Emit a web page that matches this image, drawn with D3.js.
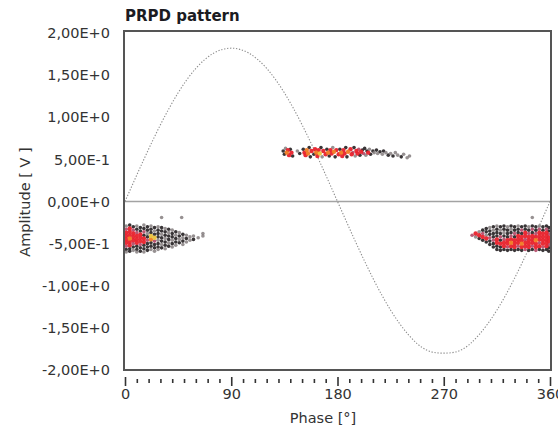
<!DOCTYPE html>
<html>
<head>
<meta charset="utf-8">
<script src="https://cdn.jsdelivr.net/npm/d3@7/dist/d3.min.js"></script>
<style>
  html, body { margin: 0; padding: 0; background: #fff; }
  svg { display: block; }
  text { font-family: "DejaVu Sans", Verdana, sans-serif; fill: #2b2b2b; }
</style>
</head>
<body>
<svg id="chart" width="558" height="431"></svg>
<script>
// Phase axis and amplitude axis ticks
const phaseTicks = [0, 90, 180, 270, 360];
const amplitudeTicks = [2, 1.5, 1, 0.5, 0, -0.5, -1, -1.5, -2];

// Reference sinusoid of the test voltage, sampled every 15°
const sinePhase = [0, 15, 30, 45, 60, 75, 90, 105, 120, 135, 150, 165, 180,
                   195, 210, 225, 240, 255, 270, 285, 300, 315, 330, 345, 360];
const sineAmp = [0, 0.47, 0.91, 1.29, 1.58, 1.76, 1.82, 1.76, 1.58, 1.29, 0.91, 0.47, 0,
                 -0.47, -0.91, -1.29, -1.58, -1.76, -1.80, -1.76, -1.58, -1.29, -0.91, -0.47, 0];

// Discharge pulses: [phase °, amplitude V, density level]
// levels: 0 dark, 1 grey, 2 pink, 3 red, 4 orange, 5 yellow
const positiveCluster = [
  [134,0.60,0],[135,0.56,0],[136,0.63,1],[137,0.58,4],[138,0.61,3],[139,0.55,3],[140,0.62,0],[141,0.58,3],[142,0.54,0],
  [146,0.60,1],[148,0.57,0],
  [151,0.62,0],[152,0.58,3],[153,0.55,3],[154,0.61,4],[155,0.57,4],[156,0.64,0],[157,0.53,0],[158,0.60,3],
  [160,0.56,0],[161,0.62,3],[162,0.58,4],[163,0.54,3],[164,0.61,3],[165,0.57,5],[166,0.64,0],[167,0.53,1],[168,0.60,3],
  [170,0.56,3],[171,0.62,0],[172,0.58,4],[173,0.54,0],[174,0.61,3],[175,0.57,3],[176,0.64,1],[177,0.59,4],[178,0.53,0],[179,0.61,3],
  [181,0.56,3],[182,0.62,0],[183,0.58,4],[184,0.54,3],[185,0.61,3],[186,0.57,3],[187,0.64,0],[188,0.53,0],[189,0.59,4],
  [191,0.62,3],[192,0.56,3],[193,0.58,2],[194,0.64,0],[195,0.54,1],[196,0.60,3],[197,0.57,3],[198,0.62,2],[199,0.55,0],
  [200,0.59,3],[201,0.61,0],[202,0.57,2],[203,0.63,0],[204,0.55,1],[205,0.60,0],[206,0.58,3],[207,0.62,1],[208,0.56,0],
  [210,0.60,0],[211,0.58,1],[213,0.61,0],[214,0.57,1],[216,0.59,0],[218,0.56,1],[219,0.60,0],[221,0.58,1],
  [223,0.55,0],[225,0.57,1],[227,0.54,0],[229,0.58,1],[231,0.55,1],[234,0.53,0],[236,0.56,1],[239,0.52,1],[241,0.54,1]
];

const negativeClusterLeft = [
  [1,-0.29,1],[1,-0.33,2],[1,-0.37,3],[1,-0.41,3],[1,-0.45,3],[1,-0.49,3],[1,-0.53,2],[1,-0.57,0],[1,-0.60,1],
  [4,-0.28,0],[4,-0.32,3],[4,-0.36,3],[4,-0.40,3],[4,-0.44,4],[4,-0.48,3],[4,-0.52,3],[4,-0.56,0],[4,-0.59,0],
  [7,-0.30,0],[7,-0.34,2],[7,-0.38,3],[7,-0.42,3],[7,-0.46,3],[7,-0.50,2],[7,-0.54,0],[7,-0.58,1],
  [10,-0.29,1],[10,-0.33,0],[10,-0.37,2],[10,-0.41,3],[10,-0.45,3],[10,-0.49,3],[10,-0.53,0],[10,-0.57,0],[10,-0.60,1],
  [13,-0.31,0],[13,-0.35,0],[13,-0.39,3],[13,-0.43,3],[13,-0.47,3],[13,-0.51,2],[13,-0.55,0],[13,-0.59,0],
  [16,-0.28,1],[16,-0.32,0],[16,-0.36,2],[16,-0.40,0],[16,-0.44,3],[16,-0.48,3],[16,-0.52,0],[16,-0.56,0],[16,-0.60,1],
  [19,-0.30,0],[19,-0.34,0],[19,-0.38,1],[19,-0.42,0],[19,-0.46,2],[19,-0.50,0],[19,-0.54,0],[19,-0.58,0],
  [22,-0.29,1],[22,-0.33,0],[22,-0.37,0],[22,-0.41,5],[22,-0.45,4],[22,-0.49,0],[22,-0.53,0],[22,-0.57,1],
  [25,-0.31,0],[25,-0.35,1],[25,-0.39,0],[25,-0.43,5],[25,-0.47,2],[25,-0.51,0],[25,-0.55,0],[25,-0.59,1],
  [28,-0.30,1],[28,-0.34,0],[28,-0.38,0],[28,-0.42,0],[28,-0.46,1],[28,-0.50,0],[28,-0.54,0],[28,-0.57,1],
  [31,-0.31,0],[31,-0.35,0],[31,-0.39,1],[31,-0.43,0],[31,-0.47,0],[31,-0.51,1],[31,-0.55,0],
  [34,-0.32,1],[34,-0.36,0],[34,-0.40,0],[34,-0.44,1],[34,-0.48,0],[34,-0.52,0],[34,-0.56,1],
  [37,-0.33,0],[37,-0.37,1],[37,-0.41,0],[37,-0.45,0],[37,-0.49,1],[37,-0.53,0],
  [40,-0.34,1],[40,-0.38,0],[40,-0.42,0],[40,-0.46,1],[40,-0.50,0],[40,-0.54,1],
  [43,-0.36,0],[43,-0.40,1],[43,-0.44,0],[43,-0.48,0],[43,-0.52,1],
  [46,-0.37,1],[46,-0.41,0],[46,-0.45,1],[46,-0.49,0],
  [49,-0.39,0],[49,-0.43,1],[49,-0.47,0],[49,-0.51,1],
  [52,-0.40,1],[52,-0.44,0],[52,-0.48,1],
  [55,-0.42,1],[55,-0.46,1],
  [58,-0.41,1],[58,-0.45,0],
  [62,-0.43,1],[66,-0.41,1],[66,-0.38,1],
  [31,-0.19,1],[48,-0.19,1]
];

const negativeClusterRight = [
  [294,-0.40,2],
  [297,-0.38,3],[297,-0.42,1],
  [300,-0.36,1],[300,-0.40,3],[300,-0.44,0],
  [303,-0.34,0],[303,-0.38,2],[303,-0.42,3],[303,-0.46,0],
  [306,-0.32,0],[306,-0.36,0],[306,-0.40,1],[306,-0.44,3],[306,-0.48,0],
  [309,-0.31,1],[309,-0.35,0],[309,-0.39,0],[309,-0.43,2],[309,-0.47,0],[309,-0.51,0],
  [312,-0.30,0],[312,-0.34,1],[312,-0.38,0],[312,-0.42,0],[312,-0.46,2],[312,-0.50,0],[312,-0.54,0],
  [315,-0.29,1],[315,-0.33,0],[315,-0.37,0],[315,-0.41,0],[315,-0.45,3],[315,-0.49,3],[315,-0.53,0],[315,-0.57,0],
  [318,-0.30,0],[318,-0.34,1],[318,-0.38,0],[318,-0.42,2],[318,-0.46,0],[318,-0.50,3],[318,-0.54,0],[318,-0.58,0],
  [321,-0.29,0],[321,-0.33,0],[321,-0.37,1],[321,-0.41,0],[321,-0.45,2],[321,-0.49,3],[321,-0.53,3],[321,-0.57,0],
  [324,-0.30,1],[324,-0.34,0],[324,-0.38,0],[324,-0.42,0],[324,-0.46,3],[324,-0.50,3],[324,-0.54,2],[324,-0.58,0],
  [327,-0.29,0],[327,-0.33,1],[327,-0.37,0],[327,-0.41,2],[327,-0.45,3],[327,-0.49,4],[327,-0.53,3],[327,-0.57,0],
  [330,-0.30,0],[330,-0.34,0],[330,-0.38,2],[330,-0.42,0],[330,-0.46,3],[330,-0.50,3],[330,-0.54,3],[330,-0.58,0],
  [333,-0.29,1],[333,-0.33,0],[333,-0.37,0],[333,-0.41,3],[333,-0.45,3],[333,-0.49,3],[333,-0.53,2],[333,-0.57,0],
  [336,-0.30,0],[336,-0.34,2],[336,-0.38,0],[336,-0.42,3],[336,-0.46,3],[336,-0.50,4],[336,-0.54,3],[336,-0.58,0],
  [339,-0.29,0],[339,-0.33,0],[339,-0.37,3],[339,-0.41,3],[339,-0.45,2],[339,-0.49,3],[339,-0.53,3],[339,-0.57,2],
  [342,-0.30,1],[342,-0.34,0],[342,-0.38,2],[342,-0.42,3],[342,-0.46,3],[342,-0.50,3],[342,-0.54,3],[342,-0.58,0],
  [345,-0.29,0],[345,-0.33,2],[345,-0.37,0],[345,-0.41,3],[345,-0.45,3],[345,-0.49,3],[345,-0.53,2],[345,-0.57,0],
  [348,-0.30,0],[348,-0.34,0],[348,-0.38,2],[348,-0.42,3],[348,-0.46,4],[348,-0.50,3],[348,-0.54,3],[348,-0.58,2],
  [351,-0.29,1],[351,-0.33,2],[351,-0.37,3],[351,-0.41,3],[351,-0.45,3],[351,-0.49,2],[351,-0.53,3],[351,-0.57,0],
  [354,-0.30,0],[354,-0.34,0],[354,-0.38,3],[354,-0.42,3],[354,-0.46,3],[354,-0.50,3],[354,-0.54,2],[354,-0.58,0],
  [357,-0.29,0],[357,-0.33,2],[357,-0.37,3],[357,-0.41,3],[357,-0.45,3],[357,-0.49,3],[357,-0.53,3],[357,-0.57,0],
  [359,-0.31,0],[359,-0.35,0],[359,-0.39,2],[359,-0.43,3],[359,-0.47,3],[359,-0.51,2],[359,-0.55,0],[359,-0.59,0],
  [345,-0.19,1]
];

const levelColors = ["#2e2a2c", "#7d7577", "#b5506e", "#e8222c", "#f07a22", "#e9c23c"];

const svg = d3.select("#chart");
const plot = { left: 124, right: 551, top: 31, bottom: 370 };

const x = d3.scaleLinear().domain([0, 360]).range([125, 550]);
const y = d3.scaleLinear().domain([-2, 2]).range([370, 33]);

// Title
svg.append("text")
  .attr("x", 125).attr("y", 21)
  .style("font-weight", "bold").style("font-size", "15px")
  .style("fill", "#1b1b22")
  .text("PRPD pattern");

// Plot background
svg.append("rect")
  .attr("x", plot.left).attr("y", plot.top)
  .attr("width", plot.right - plot.left).attr("height", plot.bottom - plot.top)
  .attr("fill", "#fff");

// Zero line
svg.append("line")
  .attr("x1", plot.left).attr("x2", plot.right)
  .attr("y1", y(0)).attr("y2", y(0))
  .attr("stroke", "#a3a3a3").attr("stroke-width", 1.6);

// Sinusoid (dotted)
const sinePts = sinePhase.map((p, i) => [p, sineAmp[i]]);
svg.append("path")
  .datum(sinePts)
  .attr("fill", "none")
  .attr("stroke", "#8c8c8c")
  .attr("stroke-width", 1.1)
  .attr("stroke-dasharray", "1.3,1.7")
  .attr("d", d3.line().x(d => x(d[0])).y(d => y(d[1])).curve(d3.curveNatural));

// Pulses
const pulses = [...positiveCluster, ...negativeClusterLeft, ...negativeClusterRight]
  .sort((a, b) => a[2] - b[2]);
svg.append("g")
  .selectAll("circle")
  .data(pulses)
  .join("circle")
  .attr("cx", d => x(d[0]))
  .attr("cy", d => y(d[1]))
  .attr("r", d => d[2] >= 3 ? 2.2 : 1.8)
  .attr("fill", d => levelColors[d[2]])
  .attr("opacity", d => d[2] === 1 ? 0.8 : 0.95);

// Frame
svg.append("rect")
  .attr("x", plot.left).attr("y", plot.top)
  .attr("width", plot.right - plot.left).attr("height", plot.bottom - plot.top)
  .attr("fill", "none")
  .attr("stroke", "#555").attr("stroke-width", 2);

// Amplitude axis labels
const sciFormat = v => {
  if (v === 0) return "0,00E+0";
  const e = Math.floor(Math.log10(Math.abs(v)) + 1e-9);
  const m = v / Math.pow(10, e);
  return m.toFixed(2).replace(".", ",") + "E" + (e >= 0 ? "+" : "") + e;
};
const yAxis = svg.append("g")
  .attr("transform", `translate(${plot.left},0)`)
  .call(d3.axisLeft(y).tickValues(amplitudeTicks).tickSize(0).tickPadding(14).tickFormat(sciFormat));
yAxis.select(".domain").remove();
yAxis.selectAll("text")
  .style("font-family", "DejaVu Sans, sans-serif").style("font-size", "14.5px").style("fill", "#333");

// Phase axis with minor ticks every 10°
const minorTicks = d3.range(0, 361, 10);
const xAxis = svg.append("g")
  .attr("transform", `translate(0,377)`)
  .call(d3.axisBottom(x).tickValues(minorTicks).tickSize(8).tickPadding(4)
    .tickFormat(d => phaseTicks.includes(d) ? d : ""));
xAxis.select(".domain").remove();
xAxis.selectAll(".tick line")
  .attr("stroke", "#333")
  .attr("stroke-width", 1.6)
  .attr("y1", d => phaseTicks.includes(d) ? 0 : 2)
  .attr("y2", d => phaseTicks.includes(d) ? 9 : 6);
xAxis.selectAll("text")
  .style("font-family", "DejaVu Sans, sans-serif").style("font-size", "14.5px").style("fill", "#333");

// Axis titles
svg.append("text")
  .attr("x", 323).attr("y", 423)
  .attr("text-anchor", "middle")
  .style("font-size", "14.5px").style("fill", "#333")
  .text("Phase [°]");

svg.append("text")
  .attr("transform", `translate(30,202) rotate(-90)`)
  .attr("text-anchor", "middle")
  .style("font-size", "14.5px").style("fill", "#333")
  .text("Amplitude [ V ]");
</script>
</body>
</html>
